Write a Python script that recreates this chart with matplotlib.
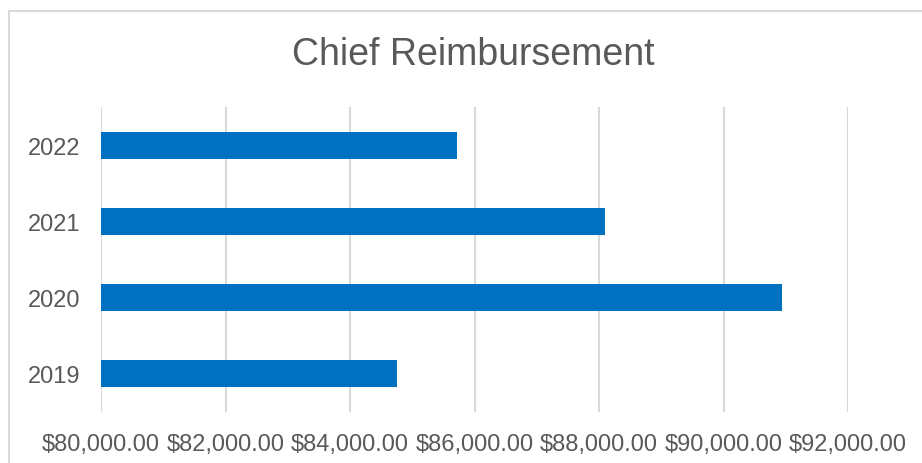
import matplotlib
matplotlib.use("Agg")
import matplotlib.pyplot as plt
from matplotlib.patches import Rectangle
from matplotlib.ticker import FuncFormatter

# data
years = ["2019", "2020", "2021", "2022"]
amounts = [84757, 90942, 88090, 85717]
x_ticks = [80000, 82000, 84000, 86000, 88000, 90000, 92000]

bar_color = "#0070C0"
text_color = "#595959"
grid_color = "#D9D9D9"

plt.rcParams["font.family"] = ["Liberation Sans", "DejaVu Sans"]

fig = plt.figure(figsize=(9.22, 4.64), dpi=100)
ax = fig.add_axes([101 / 922, 1 - 413 / 464, 747 / 922, 305 / 464])

# chart border, like the spreadsheet chart frame
fig.patches.append(Rectangle((9 / 922, -0.1), 1.2, 1 - 12 / 464 + 0.1,
                             transform=fig.transFigure, fill=False,
                             edgecolor=grid_color, linewidth=1.5))

ax.barh(years, [a - x_ticks[0] for a in amounts], left=x_ticks[0],
        height=0.355, color=bar_color, zorder=3)

ax.set_xlim(x_ticks[0], x_ticks[-1])
ax.set_ylim(-0.5, len(years) - 0.5)
ax.set_xticks(x_ticks)
ax.xaxis.set_major_formatter(FuncFormatter(lambda v, p: "${:,.2f}".format(v)))

ax.grid(axis="x", color=grid_color, linewidth=1.5, zorder=0)
ax.tick_params(axis="both", length=0, labelsize=17, labelcolor=text_color)
ax.tick_params(axis="x", pad=15)
ax.tick_params(axis="y", pad=15)
for s in ax.spines.values():
    s.set_visible(False)

fig.text(473 / 922, 1 - 55 / 464, "Chief Reimbursement", ha="center",
         va="center", fontsize=27, color=text_color)

fig.savefig("out.png", dpi=100)
